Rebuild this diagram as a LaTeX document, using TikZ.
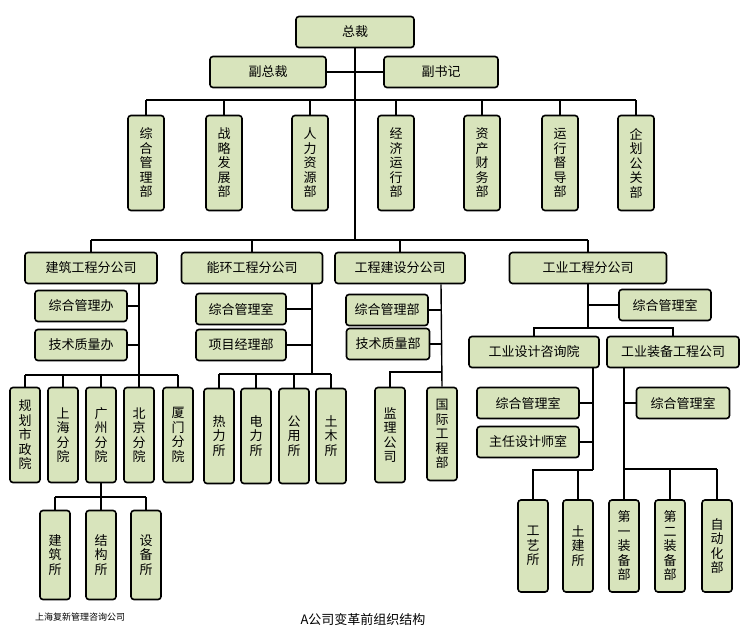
\documentclass[tikz,border=0pt]{standalone}
\usepackage{fontspec}
\setmainfont{Noto Sans CJK SC}
\usetikzlibrary{positioning}
\definecolor{boxgreen}{RGB}{216,228,188}
\tikzstyle{box}=[rectangle,rounded corners=3pt,fill=boxgreen,draw=black,line width=1.6pt,inner sep=0pt,minimum height=31pt,font=\fontsize{13}{15}\selectfont,anchor=center]
\tikzstyle{vbox}=[box,minimum width=30pt,minimum height=95pt,align=center,font=\fontsize{13}{14.5}\selectfont]
\tikzstyle{link}=[line width=1.4pt]
\tikzstyle{annot}=[align=center]

\begin{document}
\begin{tikzpicture}[x=1pt,y=-1pt]
	\useasboundingbox (0,0) rectangle (752,640);

	% top
	\node[box, minimum width=118pt](zc) at (355,32){总裁};
	\node[box, minimum width=116pt](fzc) at (268,72){副总裁};
	\node[box, minimum width=114pt](fsj) at (441,72){副书记};
	\coordinate (top) at (355,100);
	\coordinate (mid) at (355,240);
	\draw[link] (zc.south) -- (mid);
	\draw[link] (fzc.east) -- (fsj.west);

	% departments
	\foreach \n/\x/\t in {d1/146/综\\合\\管\\理\\部, d2/224/战\\略\\发\\展\\部, d3/310/人\\力\\资\\源\\部, d4/396/经\\济\\运\\行\\部, d5/482/资\\产\\财\\务\\部, d6/560/运\\行\\督\\导\\部, d7/636/企\\划\\公\\关\\部}
	{
		\node[vbox, minimum width=36pt](\n) at (\x,163){\t};
		\draw[link] (\n.north) -- (\n.north |- top);
	}
	\draw[link] (d1.north |- top) -- (d7.north |- top);

	% branch companies
	\node[box, minimum width=132pt](jz) at (91,268){建筑工程分公司};
	\node[box, minimum width=141pt](nh) at (252,268){能环工程分公司};
	\node[box, minimum width=130pt](gj) at (400,268){工程建设分公司};
	\node[box, minimum width=157pt](gy) at (588,268){工业工程分公司};
	\foreach \n in {jz,nh,gj,gy}
		\draw[link] (\n.north) -- (\n.north |- mid);
	\draw[link] (jz.north |- mid) -- (gy.north |- mid);

	% 建筑工程分公司
	\coordinate (jzt) at (139,375);
	\draw[link] (jzt |- jz.south) -- (jzt);
	\node[box, minimum width=92pt](jz1) at (81,306){综合管理办};
	\node[box, minimum width=92pt](jz2) at (81,345){技术质量办};
	\draw[link] (jz1.east) -- (jz1.east -| jzt);
	\draw[link] (jz2.east) -- (jz2.east -| jzt);
	\foreach \n/\x/\t in {jza/25/规\\划\\市\\政\\院, jzb/63/上\\海\\分\\院, jzc/101/广\\州\\分\\院, jzd/139/北\\京\\分\\院, jze/178/厦\\门\\分\\院}
	{
		\node[vbox](\n) at (\x,435){\t};
		\draw[link] (\n.north) -- (\n.north |- jzt);
	}
	\draw[link] (jza.north |- jzt) -- (jze.north |- jzt);
	\coordinate (gzt) at (101,497);
	\draw[link] (jzc.south) -- (gzt);
	\foreach \n/\x/\t in {gza/55/建\\筑\\所, gzb/101/结\\构\\所, gzc/146/设\\备\\所}
	{
		\node[vbox, minimum height=89pt](\n) at (\x,555){\t};
		\draw[link] (\n.north) -- (\n.north |- gzt);
	}
	\draw[link] (gza.north |- gzt) -- (gzc.north |- gzt);

	% 能环工程分公司
	\coordinate (nht) at (312,374);
	\draw[link] (nht |- nh.south) -- (nht);
	\node[box, minimum width=90pt](nh1) at (241,309){综合管理室};
	\node[box, minimum width=90pt](nh2) at (241,345){项目经理部};
	\draw[link] (nh1.east) -- (nh1.east -| nht);
	\draw[link] (nh2.east) -- (nh2.east -| nht);
	\foreach \n/\x/\t in {nha/219/热\\力\\所, nhb/256/电\\力\\所, nhc/294/公\\用\\所, nhd/331/土\\木\\所}
	{
		\node[vbox](\n) at (\x,436){\t};
		\draw[link] (\n.north) -- (\n.north |- nht);
	}
	\draw[link] (nha.north |- nht) -- (nhd.north |- nht);

	% 工程建设分公司
	\coordinate (gjt) at (441,372);
	\node[box, minimum width=82pt](gj1) at (387,310){综合管理部};
	\node[box, minimum width=83pt](gj2) at (388,344){技术质量部};
	\node[vbox](gja) at (390,435){监\\理\\公\\司};
	\node[vbox, minimum height=93pt](gjb) at (442,434){国\\际\\工\\程\\部};
	\draw[link] (gjt |- gj.south) -- (gjb.north);
	\draw[link] (gj1.east) -- (gj1.east -| gjt);
	\draw[link] (gj2.east) -- (gj2.east -| gjt);
	\draw[link] (gja.north) |- (gjt);

	% 工业工程分公司
	\coordinate (gyt) at (588,328);
	\draw[link] (gy.south) -- (gyt);
	\node[box, minimum width=92pt](gy1) at (665,305){综合管理室};
	\draw[link] (gy1.west) -- (gy1.west -| gyt);
	\node[box, minimum width=130pt](sj) at (534,352){工业设计咨询院};
	\node[box, minimum width=132pt](zb) at (673,352){工业装备工程公司};
	\draw[link] (sj.north) |- (gyt) -| (zb.north);

	% 工业设计咨询院
	\coordinate (sjt) at (593,470);
	\draw[link] (sjt |- sj.south) -- (sjt);
	\node[box, minimum width=102pt](sj1) at (528,403){综合管理室};
	\node[box, minimum width=102pt](sj2) at (528,442){主任设计师室};
	\draw[link] (sj1.east) -- (sj1.east -| sjt);
	\draw[link] (sj2.east) -- (sj2.east -| sjt);
	\node[vbox, minimum height=92pt](sja) at (533,546){工\\艺\\所};
	\node[vbox, minimum height=92pt](sjb) at (578,546){土\\建\\所};
	\draw[link] (sja.north) |- (sjt);
	\draw[link] (sjb.north) -- (sjb.north |- sjt);

	% 工业装备工程公司
	\coordinate (zbt) at (624,469);
	\draw[link] (zbt |- zb.south) -- (zbt);
	\node[box, minimum width=93pt](zb1) at (683,403){综合管理室};
	\draw[link] (zb1.west) -- (zb1.west -| zbt);
	\foreach \n/\x/\t in {zba/624/第\\一\\装\\备\\部, zbb/670/第\\二\\装\\备\\部, zbc/717/自\\动\\化\\部}
	{
		\node[vbox, minimum height=92pt](\n) at (\x,546){\t};
		\draw[link] (\n.north) -- (\n.north |- zbt);
	}
	\draw[link] (zba.north |- zbt) -- (zbc.north |- zbt);

	% footer
	\node[annot, font=\fontsize{9}{10}\selectfont] (firm) at (80,617){上海复新管理咨询公司};
	\node[annot, font=\fontsize{13}{15}\selectfont] (title) at (363,620){A公司变革前组织结构};
\end{tikzpicture}
\end{document}
